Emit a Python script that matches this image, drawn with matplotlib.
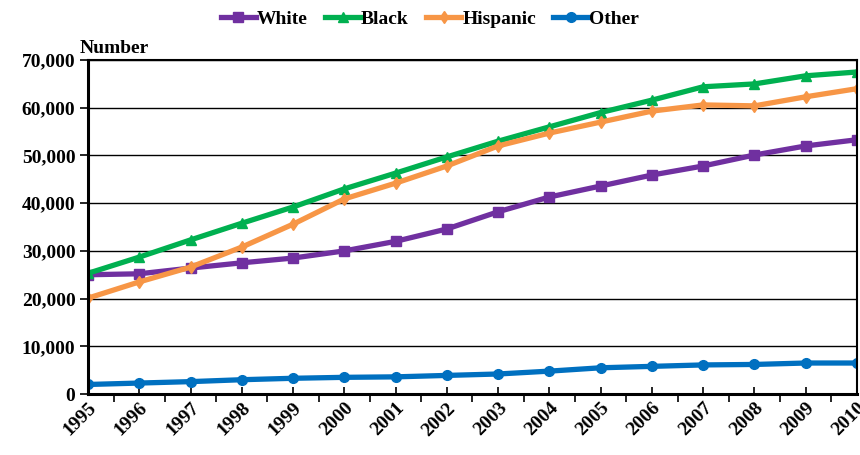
import matplotlib.pyplot as plt
from matplotlib.ticker import FuncFormatter, MultipleLocator

plt.rcParams['font.family'] = ['Liberation Serif', 'DejaVu Serif']
plt.rcParams['font.weight'] = 'bold'

# data
years = list(range(1995, 2011))
white = [25000, 25200, 26400, 27500, 28500, 30000, 32000, 34600,
         38200, 41300, 43600, 45900, 47800, 50100, 52000, 53300]
black = [25300, 28700, 32300, 35800, 39200, 43000, 46300, 49700,
         53000, 56000, 59000, 61600, 64400, 65000, 66700, 67500]
hispanic = [20100, 23500, 26600, 30800, 35600, 40900, 44200, 47800,
            52000, 54700, 57000, 59300, 60600, 60400, 62300, 64000]
other = [2000, 2300, 2600, 3000, 3300, 3500, 3600, 3900,
         4200, 4800, 5500, 5800, 6100, 6200, 6500, 6500]

fig = plt.figure(figsize=(8.6, 4.55), dpi=100)
ax = fig.add_axes([0.1023, 0.134, 0.8942, 0.734])

ax.plot(years, white, color='#7030A0', lw=3.8, marker='s', ms=7, label='White')
ax.plot(years, black, color='#00B050', lw=3.8, marker='^', ms=7, label='Black')
ax.plot(years, hispanic, color='#F79646', lw=3.8, marker='d', ms=6, label='Hispanic')
ax.plot(years, other, color='#0070C0', lw=3.8, marker='o', ms=7, label='Other')

ax.set_xlim(1995, 2010)
ax.set_ylim(0, 70000)
ax.yaxis.set_major_locator(MultipleLocator(10000))
ax.yaxis.set_major_formatter(FuncFormatter(lambda v, p: f'{int(v):,}'))
ax.set_xticks(years)
ax.set_xticklabels([str(y) for y in years], rotation=45, ha='right',
                   rotation_mode='anchor', fontsize=14, fontweight='bold')
ax.set_xticks([y + 0.5 for y in years[:-1]], minor=True)
ax.tick_params(axis='x', which='major', direction='in', length=5, width=1.2, pad=4)
ax.tick_params(axis='x', which='minor', direction='out', length=6, width=1.2)
ax.tick_params(axis='y', direction='out', length=6, width=1.2, labelsize=14, pad=3)
for lab in ax.get_yticklabels():
    lab.set_fontweight('bold')

ax.grid(axis='y', color='black', lw=1)
ax.set_axisbelow(True)
for side in ['left', 'bottom']:
    ax.spines[side].set_linewidth(2.2)
for side in ['top', 'right']:
    ax.spines[side].set_linewidth(1.5)

fig.text(0.093, 0.883, 'Number', fontsize=14, fontweight='bold')

fig.legend(loc='upper center', bbox_to_anchor=(0.5, 1.015), ncol=4, frameon=False,
           prop={'size': 14, 'weight': 'bold'}, handlelength=1.8,
           handletextpad=0.05, columnspacing=0.9)

plt.savefig('out.png')
